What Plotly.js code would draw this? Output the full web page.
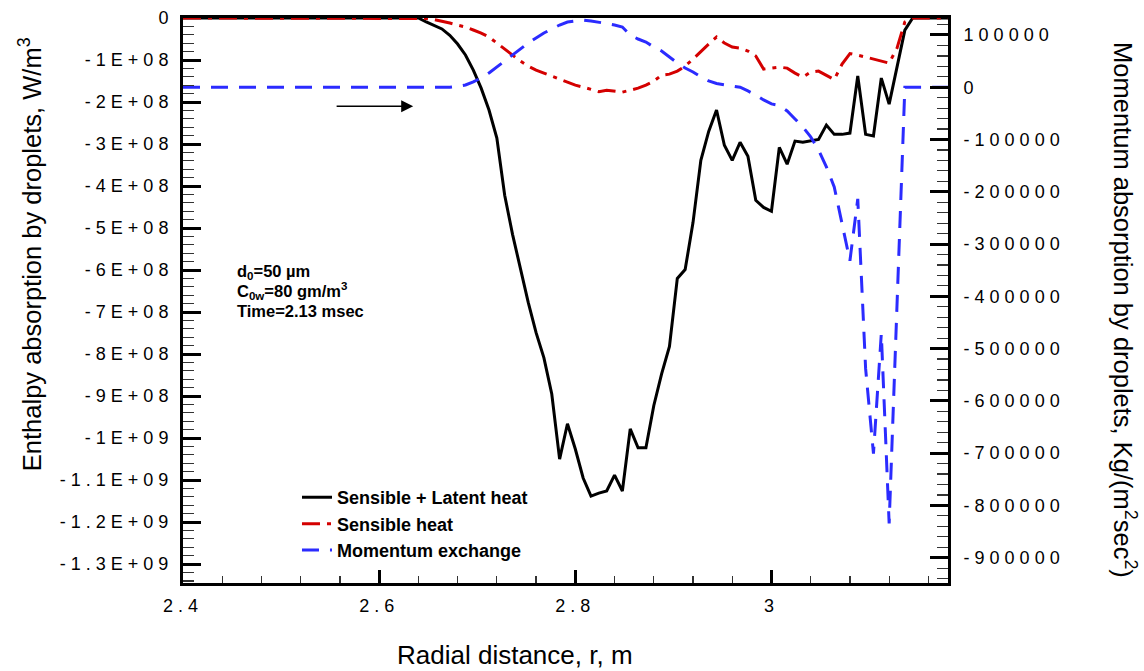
<!DOCTYPE html>
<html>
<head>
<meta charset="utf-8">
<script src="https://cdn.plot.ly/plotly-3.0.1.min.js"></script>
<style>
  html, body { margin: 0; padding: 0; background: #ffffff; }
  #chart { width: 1144px; height: 671px; }
  .js-plotly-plot .xtick text,
  .js-plotly-plot .ytick text,
  .js-plotly-plot .y2tick text { letter-spacing: 5px; }
</style>
</head>
<body>
<div id="chart"></div>
<script>
// ---- data ----
const radialDistance = [
  2.4, 2.64, 2.648, 2.656, 2.664, 2.672, 2.68, 2.688, 2.696, 2.704, 2.712,
  2.72, 2.728, 2.736, 2.744, 2.752, 2.76, 2.768, 2.776, 2.784, 2.792,
  2.8, 2.808, 2.816, 2.824, 2.832, 2.84, 2.848, 2.856, 2.864, 2.872,
  2.88, 2.888, 2.896, 2.904, 2.912, 2.92, 2.928, 2.936, 2.944, 2.952,
  2.96, 2.968, 2.976, 2.984, 2.992, 3.0, 3.008, 3.016, 3.024, 3.032,
  3.04, 3.048, 3.056, 3.064, 3.072, 3.08, 3.088, 3.096, 3.104, 3.112,
  3.12, 3.128, 3.136, 3.144, 3.152, 3.16, 3.168, 3.176, 3.184
];

// Sensible + Latent heat (W/m^3), left axis
const sensibleLatentHeat = [
  0, 0, -0.095e8, -0.17e8, -0.26e8, -0.41e8, -0.62e8, -0.88e8, -1.24e8, -1.67e8, -2.19e8,
  -2.86e8, -4.22e8, -5.15e8, -5.96e8, -6.77e8, -7.49e8, -8.09e8, -8.95e8, -10.50e8, -9.66e8,
  -10.26e8, -10.95e8, -11.38e8, -11.31e8, -11.26e8, -10.88e8, -11.26e8, -9.78e8, -10.23e8, -10.23e8,
  -9.23e8, -8.47e8, -7.82e8, -6.20e8, -5.99e8, -4.87e8, -3.39e8, -2.70e8, -2.19e8, -3.03e8,
  -3.39e8, -2.96e8, -3.29e8, -4.34e8, -4.51e8, -4.60e8, -3.08e8, -3.48e8, -2.93e8, -2.96e8,
  -2.93e8, -2.89e8, -2.55e8, -2.77e8, -2.77e8, -2.74e8, -1.38e8, -2.77e8, -2.81e8, -1.43e8,
  -2.05e8, -1.17e8, -0.29e8, 0, 0, 0, 0, 0, 0
];

// Sensible heat (W/m^3), left axis
const sensibleHeat = [
  0, 0, -0.012e8, -0.036e8, -0.072e8, -0.119e8, -0.167e8, -0.215e8, -0.286e8, -0.358e8, -0.453e8,
  -0.596e8, -0.740e8, -0.883e8, -1.026e8, -1.145e8, -1.240e8, -1.312e8, -1.384e8, -1.455e8, -1.527e8,
  -1.598e8, -1.646e8, -1.694e8, -1.753e8, -1.718e8, -1.741e8, -1.765e8, -1.718e8, -1.670e8, -1.598e8,
  -1.503e8, -1.360e8, -1.336e8, -1.264e8, -1.145e8, -0.978e8, -0.787e8, -0.620e8, -0.453e8, -0.596e8,
  -0.692e8, -0.716e8, -0.787e8, -0.906e8, -1.217e8, -1.193e8, -1.169e8, -1.193e8, -1.312e8, -1.407e8,
  -1.288e8, -1.264e8, -1.360e8, -1.467e8, -1.097e8, -0.847e8, -0.883e8, -0.930e8, -0.978e8, -1.026e8,
  -1.073e8, -0.716e8, -0.095e8, 0, 0, 0, 0, 0, 0
];

// Momentum exchange (Kg/(m^2 sec^2)), right axis
const momentumExchange = [
  0, 0, 0, 0, 0, 0, 1530, 4400, 10130, 17770, 27330,
  38790, 50260, 61720, 73190, 84650, 94210, 103760, 111410, 119050, 124780,
  126700, 128610, 126700, 124780, 121920, 119050, 115230, 99940, 92300, 86560,
  77010, 69370, 57900, 46440, 36880, 29240, 19680, 12040, 7260, 4400,
  2480, 0, -7070, -14710, -24270, -31910, -34780, -45290, -60580, -75870,
  -94980, -119820, -152310, -190530, -261240, -331950, -213470, -538310, -700740, -471430,
  -834510, -404550, 0, 0, 0, 0, 0, 0, 0
];

const xTickVals = [2.4, 2.6, 2.8, 3.0];
const xTickText = ['2.4', '2.6', '2.8', '3'];
const leftTickVals = [0, -1e8, -2e8, -3e8, -4e8, -5e8, -6e8, -7e8, -8e8, -9e8, -1e9, -1.1e9, -1.2e9, -1.3e9];
const leftTickText = ['0', '-1E+08', '-2E+08', '-3E+08', '-4E+08', '-5E+08', '-6E+08', '-7E+08',
                      '-8E+08', '-9E+08', '-1E+09', '-1.1E+09', '-1.2E+09', '-1.3E+09'];
const rightTickVals = [100000, 0, -100000, -200000, -300000, -400000, -500000, -600000, -700000, -800000, -900000];
const rightTickText = ['100000', '0', '-100000', '-200000', '-300000', '-400000', '-500000',
                       '-600000', '-700000', '-800000', '-900000'];

const seriesNames = ['Sensible + Latent heat', 'Sensible heat', 'Momentum exchange'];

// ---- styling ----
const FONT = '"Liberation Sans", Arial, Helvetica, sans-serif';

const traces = [
  { x: radialDistance, y: sensibleLatentHeat, name: seriesNames[0], type: 'scatter', mode: 'lines',
    line: { color: '#000000', width: 3 }, yaxis: 'y' },
  { x: radialDistance, y: sensibleHeat, name: seriesNames[1], type: 'scatter', mode: 'lines',
    line: { color: '#d40000', width: 3, dash: '18px,7px,4px,7px' }, yaxis: 'y' },
  { x: radialDistance, y: momentumExchange, name: seriesNames[2], type: 'scatter', mode: 'lines',
    line: { color: '#2b2bff', width: 3, dash: '17px,11px' }, yaxis: 'y2' }
];

const axisCommon = {
  showline: true, linecolor: '#000', linewidth: 3,
  showgrid: false, zeroline: false,
  ticks: 'inside', tickcolor: '#000', tickwidth: 3,
  tickfont: { family: FONT, size: 18, color: '#000' },
  tickmode: 'array'
};

function minorTicks(tick0, dtick, len) {
  return { tickmode: 'linear', ticks: 'inside', tick0: tick0, dtick: dtick,
           ticklen: len, tickwidth: 1.2, tickcolor: '#333', showgrid: false };
}

const layout = {
  width: 1144, height: 671,
  margin: { l: 183, r: 196, t: 18, b: 88, pad: 0 },
  paper_bgcolor: '#ffffff', plot_bgcolor: '#ffffff',
  font: { family: FONT, color: '#000' },
  showlegend: true,
  legend: {
    x: 0.149, y: 0.184, xanchor: 'left', yanchor: 'top',
    bgcolor: 'rgba(0,0,0,0)', borderwidth: 0,
    font: { family: FONT, size: 18, color: '#000', weight: 'bold' },
    tracegroupgap: 0
  },
  xaxis: Object.assign({}, axisCommon, {
    range: [2.4, 3.18], tickvals: xTickVals, ticktext: xTickText,
    ticklen: 13, mirror: true, ticklabelstandoff: 4,
    minor: minorTicks(2.4, 0.04, 7)
  }),
  yaxis: Object.assign({}, axisCommon, {
    range: [-1.345e9, 0], tickvals: leftTickVals, ticktext: leftTickText,
    ticklen: 18, mirror: true, ticklabelstandoff: 3,
    minor: minorTicks(0, 2e7, 11)
  }),
  yaxis2: Object.assign({}, axisCommon, {
    overlaying: 'y', side: 'right',
    range: [-948400, 132500], tickvals: rightTickVals, ticktext: rightTickText,
    ticklen: 18, ticklabelstandoff: 9,
    minor: minorTicks(0, 20000, 11)
  }),
  annotations: [
    { xref: 'x', yref: 'y', axref: 'x', ayref: 'y',
      x: 2.6347, y: -2.1e8, ax: 2.5551, ay: -2.1e8,
      text: '', showarrow: true, arrowhead: 2, arrowsize: 1.6, arrowwidth: 1.5, arrowcolor: '#000' }
  ]
};

const textAnnotations = [
  { xref: 'paper', yref: 'paper', x: 0.434, y: -0.1274, xanchor: 'center', yanchor: 'middle',
    text: 'Radial distance, r, m', showarrow: false, font: { family: FONT, size: 26, color: '#000' } },
  { xref: 'paper', yref: 'paper', x: -0.2, y: 0.582, xanchor: 'center', yanchor: 'middle', textangle: -90,
    text: 'Enthalpy absorption by droplets, W/m<sup>3</sup>', showarrow: false,
    font: { family: FONT, size: 25.5, color: '#000' } },
  { xref: 'paper', yref: 'paper', x: 1.2314, y: 0.483, xanchor: 'center', yanchor: 'middle', textangle: 90,
    text: 'Momentum absorption by droplets, Kg/(m<sup>2</sup>sec<sup>2</sup>)', showarrow: false,
    font: { family: FONT, size: 25.5, color: '#000' } },
  { xref: 'paper', yref: 'paper', x: 0.068, y: 0.5504, xanchor: 'left', yanchor: 'middle',
    text: 'd<sub>0</sub>=50 µm', showarrow: false,
    font: { family: FONT, size: 16.5, color: '#000', weight: 'bold' } },
  { xref: 'paper', yref: 'paper', x: 0.068, y: 0.516, xanchor: 'left', yanchor: 'middle',
    text: 'C<sub>0w</sub>=80 gm/m<sup>3</sup>', showarrow: false,
    font: { family: FONT, size: 16.5, color: '#000', weight: 'bold' } },
  { xref: 'paper', yref: 'paper', x: 0.068, y: 0.4814, xanchor: 'left', yanchor: 'middle',
    text: 'Time=2.13 msec', showarrow: false,
    font: { family: FONT, size: 16.5, color: '#000', weight: 'bold' } }
];

Plotly.newPlot('chart', traces, layout, { displayModeBar: false, staticPlot: true }).then(function (gd) {
  return Plotly.relayout(gd, { annotations: layout.annotations.concat(textAnnotations) });
});
</script>
</body>
</html>
